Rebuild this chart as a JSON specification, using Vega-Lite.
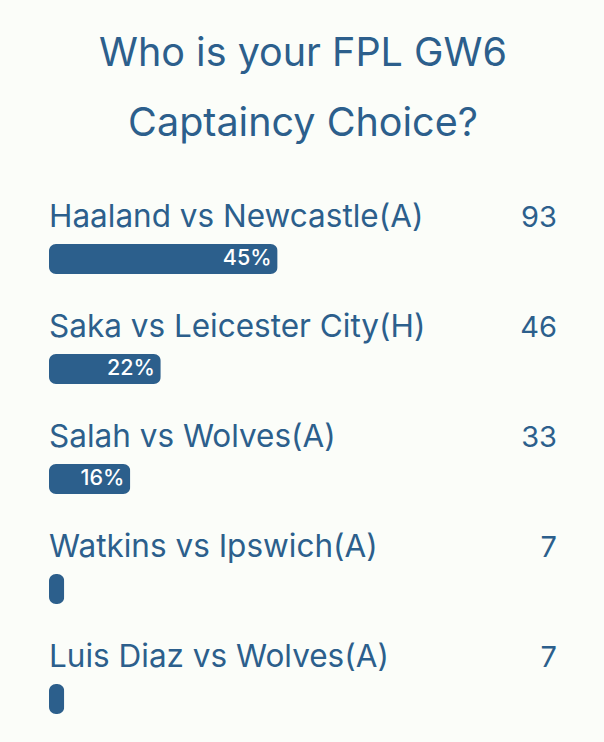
{
  "$schema": "https://vega.github.io/schema/vega-lite/v6.json",
  "background": "#fbfdf9",
  "autosize": "none",
  "width": 508,
  "height": 550,
  "padding": {"left": 49, "right": 47, "top": 192, "bottom": 0},
  "title": {
    "text": ["Who is your FPL GW6", "Captaincy Choice?"],
    "anchor": "middle",
    "font": "Inter",
    "fontSize": 39.5,
    "fontWeight": "normal",
    "color": "#2c5f8c",
    "lineHeight": 70,
    "offset": 48
  },
  "data": {
    "values": [
      {"choice": "Haaland vs Newcastle(A)", "votes": 93, "pct": 45, "label": "45%"},
      {"choice": "Saka vs Leicester City(H)", "votes": 46, "pct": 22, "label": "22%"},
      {"choice": "Salah vs Wolves(A)", "votes": 33, "pct": 16, "label": "16%"},
      {"choice": "Watkins vs Ipswich(A)", "votes": 7, "pct": 3, "label": ""},
      {"choice": "Luis Diaz vs Wolves(A)", "votes": 7, "pct": 3, "label": ""}
    ]
  },
  "encoding": {
    "y": {
      "field": "choice",
      "type": "nominal",
      "sort": null,
      "axis": null,
      "scale": {"paddingInner": 0, "paddingOuter": 0}
    }
  },
  "layer": [
    {
      "mark": {"type": "text", "align": "left", "baseline": "middle", "dy": -29, "font": "Inter", "fontSize": 31.5, "color": "#2c5f8c"},
      "encoding": {
        "x": {"datum": 0, "type": "quantitative", "scale": {"domain": [0, 100]}, "axis": null},
        "text": {"field": "choice"}
      }
    },
    {
      "mark": {"type": "text", "align": "right", "baseline": "middle", "dy": -29, "font": "Inter", "fontSize": 29, "color": "#2c5f8c"},
      "encoding": {
        "x": {"datum": 100, "type": "quantitative"},
        "text": {"field": "votes"}
      }
    },
    {
      "mark": {"type": "bar", "height": 30, "yOffset": 12, "cornerRadius": 7, "color": "#2c5f8c"},
      "encoding": {
        "x": {"field": "pct", "type": "quantitative"}
      }
    },
    {
      "mark": {"type": "text", "align": "right", "baseline": "middle", "dx": -6, "dy": 12, "font": "Inter", "fontSize": 21.5, "fontWeight": 500, "color": "white"},
      "encoding": {
        "x": {"field": "pct", "type": "quantitative"},
        "text": {"field": "label"}
      }
    }
  ],
  "config": {"view": {"stroke": null}}
}
